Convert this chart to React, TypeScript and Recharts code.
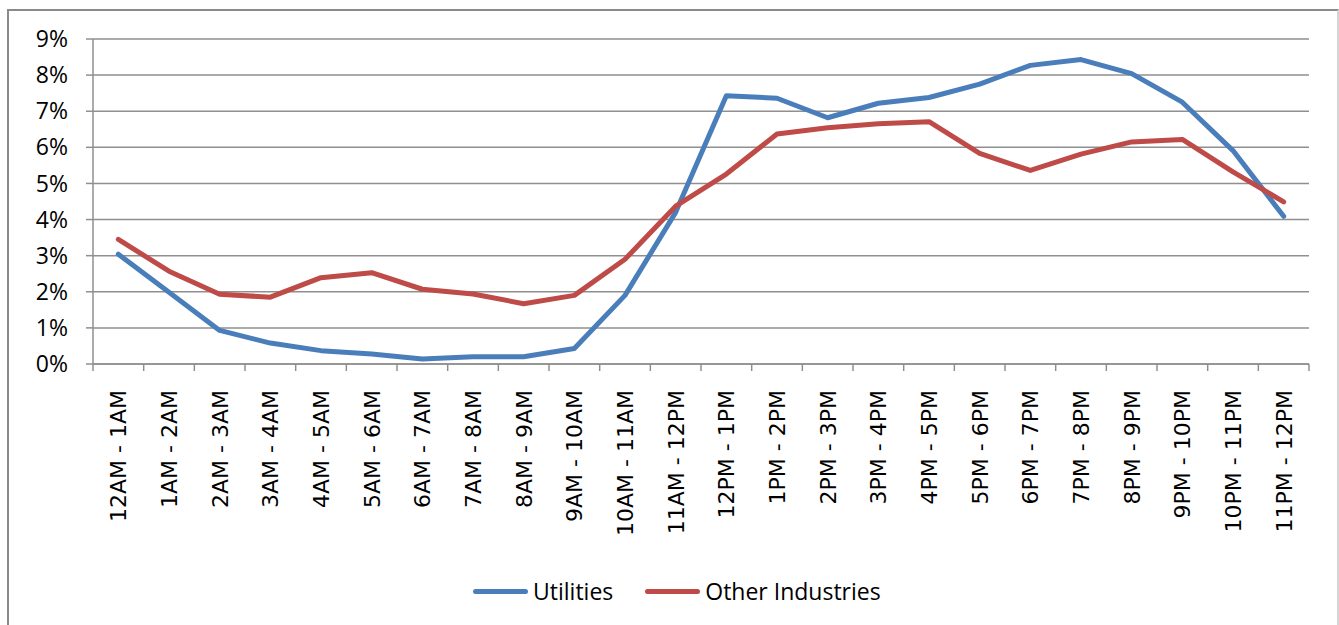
import { CartesianGrid, Line, LineChart, XAxis, YAxis } from 'recharts';

const hours = [
  '12AM - 1AM', '1AM - 2AM', '2AM - 3AM', '3AM - 4AM', '4AM - 5AM', '5AM - 6AM',
  '6AM - 7AM', '7AM - 8AM', '8AM - 9AM', '9AM - 10AM', '10AM - 11AM', '11AM - 12PM',
  '12PM - 1PM', '1PM - 2PM', '2PM - 3PM', '3PM - 4PM', '4PM - 5PM', '5PM - 6PM',
  '6PM - 7PM', '7PM - 8PM', '8PM - 9PM', '9PM - 10PM', '10PM - 11PM', '11PM - 12PM',
];

// share of activity per hour, in percent
const utilities = [
  3.04, 1.99, 0.93, 0.58, 0.37, 0.28, 0.14, 0.2, 0.2, 0.43, 1.9, 4.2,
  7.43, 7.36, 6.82, 7.22, 7.38, 7.75, 8.27, 8.43, 8.04, 7.25, 5.91, 4.09,
];
const otherIndustries = [
  3.45, 2.57, 1.93, 1.85, 2.39, 2.53, 2.07, 1.94, 1.67, 1.9, 2.9, 4.37,
  5.26, 6.37, 6.54, 6.65, 6.71, 5.83, 5.36, 5.81, 6.15, 6.22, 5.32, 4.49,
];

const yTicks = [0, 1, 2, 3, 4, 5, 6, 7, 8, 9];

const data = hours.map((hour, i) => ({
  hour,
  utilities: utilities[i],
  other: otherIndustries[i],
}));

const BLUE = '#4a7ebb';
const RED = '#be4b48';
const GRID = '#8f8f8f';
const PLOT_WIDTH = 1216;
const BAND = PLOT_WIDTH / hours.length;

function HourTick(props: any) {
  const { x, y, payload, index } = props;
  const bx = x + 8;
  const by = y + 19;
  return (
    <g>
      <line x1={x - BAND / 2} x2={x - BAND / 2} y1={y - 7} y2={y} stroke={GRID} strokeWidth={1.5} />
      {index === hours.length - 1 && (
        <line x1={x + BAND / 2} x2={x + BAND / 2} y1={y - 7} y2={y} stroke={GRID} strokeWidth={1.5} />
      )}
      <text
        x={bx}
        y={by}
        transform={`rotate(-90, ${bx}, ${by})`}
        textAnchor="end"
        fill="#000"
        fontFamily="DejaVu Sans"
        fontSize={22}
      >
        {payload.value}
      </text>
    </g>
  );
}

function LegendItem({ color, label }: { color: string; label: string }) {
  return (
    <div style={{ display: 'flex', alignItems: 'center' }}>
      <div style={{ width: 55, height: 5, borderRadius: 3, background: color, marginRight: 5 }} />
      <span>{label}</span>
    </div>
  );
}

export default function App() {
  return (
    <div
      style={{
        position: 'absolute',
        left: 0,
        top: 0,
        width: 1339,
        height: 625,
        overflow: 'hidden',
        background: '#fff',
      }}
    >
      <div
        style={{
          position: 'absolute',
          left: 7,
          top: 9,
          width: 1332,
          height: 700,
          boxSizing: 'border-box',
          borderTop: '2px solid #8a8a8a',
          borderLeft: '2px solid #8a8a8a',
          borderRight: '2px solid #d4d4d4',
        }}
      />
      <div style={{ position: 'absolute', left: 0, top: 0 }}>
        <LineChart
          width={1339}
          height={625}
          data={data}
          margin={{ top: 39, right: 30, left: 0, bottom: 61 }}
        >
          <CartesianGrid vertical={false} stroke={GRID} strokeWidth={1.5} />
          <XAxis
            dataKey="hour"
            interval={0}
            height={200}
            padding={{ left: BAND / 2, right: BAND / 2 }}
            axisLine={{ stroke: GRID, strokeWidth: 1.5 }}
            tickLine={false}
            tickSize={7}
            tickMargin={0}
            tick={<HourTick />}
          />
          <YAxis
            width={93}
            domain={[0, 9]}
            ticks={yTicks}
            interval={0}
            tickFormatter={(v: number) => `${v}%`}
            axisLine={{ stroke: GRID, strokeWidth: 1.5 }}
            tickLine={{ stroke: GRID, strokeWidth: 1.5 }}
            tickSize={7}
            tickMargin={18}
            tick={{ fill: '#000', fontSize: 23, fontFamily: 'Open Sans' }}
          />
          <Line
            dataKey="utilities"
            name="Utilities"
            stroke={BLUE}
            strokeWidth={5}
            strokeLinejoin="round"
            strokeLinecap="round"
            dot={false}
            activeDot={false}
            isAnimationActive={false}
          />
          <Line
            dataKey="other"
            name="Other Industries"
            stroke={RED}
            strokeWidth={5}
            strokeLinejoin="round"
            strokeLinecap="round"
            dot={false}
            activeDot={false}
            isAnimationActive={false}
          />
        </LineChart>
      </div>
      <div
        style={{
          position: 'absolute',
          left: 473,
          top: 574,
          height: 34,
          display: 'flex',
          alignItems: 'center',
          gap: 32,
          fontFamily: 'Open Sans',
          fontSize: 23,
          color: '#000',
        }}
      >
        <LegendItem color={BLUE} label="Utilities" />
        <LegendItem color={RED} label="Other Industries" />
      </div>
    </div>
  );
}
